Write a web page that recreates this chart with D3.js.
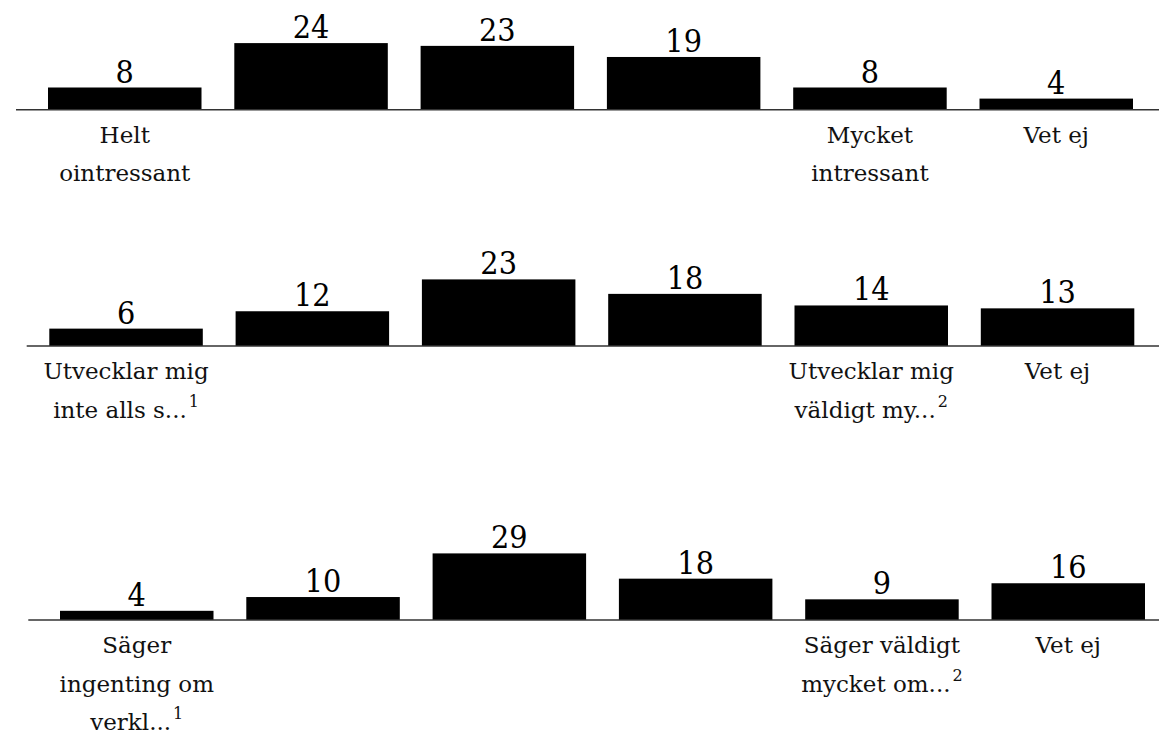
<!DOCTYPE html>
<html>
<head>
<meta charset="utf-8">
<script src="https://cdn.jsdelivr.net/npm/d3@7"></script>
<style>
  html, body { margin: 0; padding: 0; background: #fff; }
  svg { display: block; }
  .val { font-family: "DejaVu Serif", serif; font-stretch: condensed; }
  .lab { font-family: "DejaVu Serif", serif; }
</style>
</head>
<body>
<svg id="chart" width="1159" height="743"></svg>
<script>
// ---- data ----
const categories = ["c1", "c2", "c3", "c4", "c5", "c6"];

const values1 = [8, 24, 23, 19, 8, 4];
const values2 = [6, 12, 23, 18, 14, 13];
const values3 = [4, 10, 29, 18, 9, 16];

const labels1 = [["Helt", "ointressant"], [], [], [], ["Mycket", "intressant"], ["Vet ej"]];
const labels2 = [["Utvecklar mig", "inte alls s..."], [], [], [], ["Utvecklar mig", "väldigt my..."], ["Vet ej"]];
const labels3 = [["Säger", "ingenting om", "verkl..."], [], [], [], ["Säger väldigt", "mycket om..."], ["Vet ej"]];

const notes1 = ["", "", "", "", "", ""];
const notes2 = ["1", "", "", "", "2", ""];
const notes3 = ["1", "", "", "", "2", ""];

// ---- layout ----
const panels = [
  { values: values1, labels: labels1, notes: notes1, base: 109.7, barX0: 48,   lineX0: 16 },
  { values: values2, labels: labels2, notes: notes2, base: 346,   barX0: 49.3, lineX0: 26.7 },
  { values: values3, labels: labels3, notes: notes3, base: 620,   barX0: 60,   lineX0: 28.3 }
];

const step = 186.3;
const gap = 32.8;
const maxBarH = 66.6;
const lineH = 38.5;

const svg = d3.select("#chart");

panels.forEach(p => {
  const g = svg.append("g");
  const x = d3.scaleBand()
    .domain(categories)
    .range([p.barX0, p.barX0 + categories.length * step - gap])
    .paddingInner(gap / step)
    .paddingOuter(0);
  const y = d3.scaleLinear()
    .domain([0, d3.max(p.values)])
    .range([p.base, p.base - maxBarH]);

  const data = categories.map((c, i) => ({ c, v: p.values[i], lab: p.labels[i], note: p.notes[i] }));

  // bars
  g.selectAll("rect.bar").data(data).enter().append("rect")
    .attr("class", "bar")
    .attr("x", d => x(d.c))
    .attr("y", d => y(d.v))
    .attr("width", x.bandwidth())
    .attr("height", d => y(0) - y(d.v))
    .attr("fill", "#000");

  // baseline
  g.append("line")
    .attr("x1", p.lineX0).attr("x2", 1159)
    .attr("y1", y(0)).attr("y2", y(0))
    .attr("stroke", "#333").attr("stroke-width", 1.4);

  // value labels
  g.selectAll("text.val").data(data).enter().append("text")
    .attr("class", "val")
    .attr("x", d => x(d.c) + x.bandwidth() / 2)
    .attr("y", d => y(d.v) - 5)
    .attr("text-anchor", "middle")
    .attr("font-size", 32)
    .attr("fill", "#000")
    .text(d => d.v);

  // category labels
  data.forEach(d => {
    d.lab.forEach((line, li) => {
      const t = g.append("text")
        .attr("class", "lab")
        .attr("x", x(d.c) + x.bandwidth() / 2)
        .attr("y", y(0) + 33 + li * lineH)
        .attr("text-anchor", "middle")
        .attr("font-size", 23)
        .attr("fill", "#111");
      t.append("tspan").text(line);
      if (li === d.lab.length - 1 && d.note) {
        t.append("tspan")
          .attr("dx", 2)
          .attr("dy", -11)
          .attr("font-size", 16)
          .text(d.note);
      }
    });
  });
});
</script>
</body>
</html>
